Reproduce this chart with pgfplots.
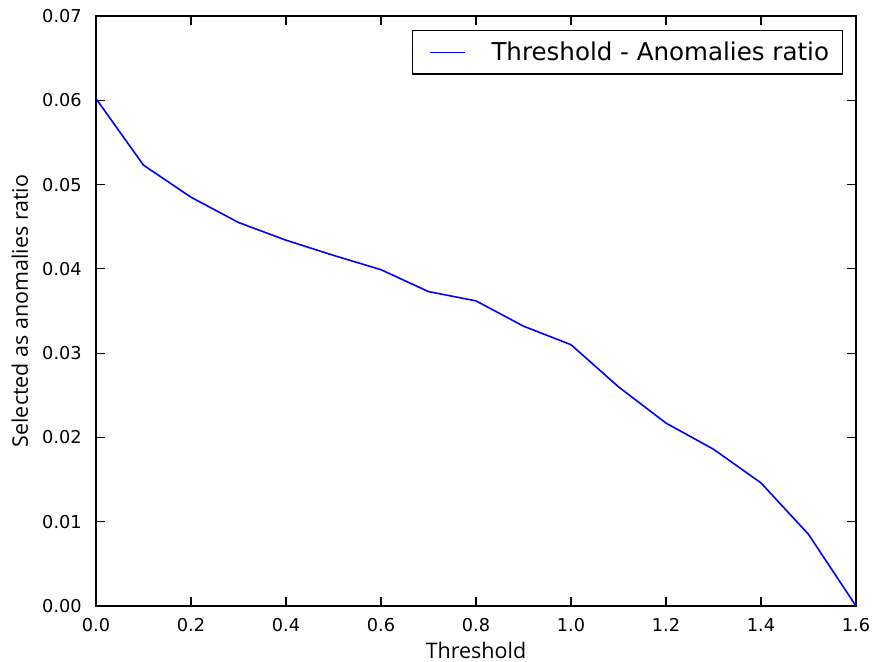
\documentclass[border=0pt]{standalone}
\usepackage{fontspec}
\setmainfont{DejaVu Sans}
\newfontfamily\labelfont{Open Sans}
\usepackage{pgfplots}
\pgfplotsset{compat=1.18}
\begin{document}
\begin{tikzpicture}
\begin{axis}[
  scale only axis,
  width=570pt, height=442.5pt,
  xmin=0, xmax=1.6, ymin=0, ymax=0.07,
  xtick={0,0.2,0.4,0.6,0.8,1.0,1.2,1.4,1.6},
  ytick={0,0.01,0.02,0.03,0.04,0.05,0.06,0.07},
  scaled ticks=false,
  x tick label style={/pgf/number format/fixed, /pgf/number format/fixed zerofill, /pgf/number format/precision=1},
  y tick label style={/pgf/number format/fixed, /pgf/number format/fixed zerofill, /pgf/number format/precision=2},
  /pgf/number format/assume math mode=true,
  tick label style={font=\fontsize{13.3}{16}\selectfont, inner sep=0pt},
  x tick label style={anchor=north, yshift=-9pt},
  y tick label style={anchor=east, xshift=-10.5pt},
  tick align=inside,
  xtick pos=both, ytick pos=both,
  major tick length=6.5pt,
  every tick/.style={black, line width=0.8pt},
  axis line style={black, line width=1pt},
  xlabel={Threshold},
  ylabel={Selected as anomalies ratio},
  label style={font=\labelfont\fontsize{16.1}{19}\selectfont, inner sep=0pt},
  xlabel style={at={(axis description cs:0.5,0)}, anchor=base, yshift=-39.4pt},
  ylabel style={at={([xshift=-51pt]axis description cs:0,0.5)}, anchor=base},
  legend style={at={(1,1)}, anchor=north east, xshift=-9.75pt, yshift=-10.5pt,
    draw=black, line width=1pt, inner xsep=10pt, inner ysep=8.5pt,
    font=\fontsize{18.4}{22}\selectfont, nodes={inner sep=0pt}, column sep=19.5pt},
  legend image code/.code={\path (0pt,0pt); \draw[#1, line width=1.2pt] (2.75pt,0pt) -- (28.75pt,0pt);},
  legend cell align=left,
]
\addplot[color={rgb,1:red,0;green,0;blue,1}, line width=1.2pt] coordinates {
(0.0,0.0602) (0.1,0.0523) (0.2,0.0485) (0.3,0.0455) (0.4,0.0434) (0.5,0.0416)
(0.6,0.0399) (0.7,0.0373) (0.8,0.0362) (0.9,0.0332) (1.0,0.0310) (1.1,0.0260)
(1.2,0.0217) (1.3,0.0186) (1.4,0.0146) (1.5,0.0085) (1.6,0.0)
};
\addlegendentry{Threshold - Anomalies ratio}
\coordinate (sw) at (rel axis cs:0,0);
\coordinate (ne) at (rel axis cs:1,1);
\end{axis}
\pgfresetboundingbox
\path ([shift={(-72pt,-42pt)}]sw) rectangle ([shift={(12.75pt,12pt)}]ne);
\end{tikzpicture}
\end{document}
